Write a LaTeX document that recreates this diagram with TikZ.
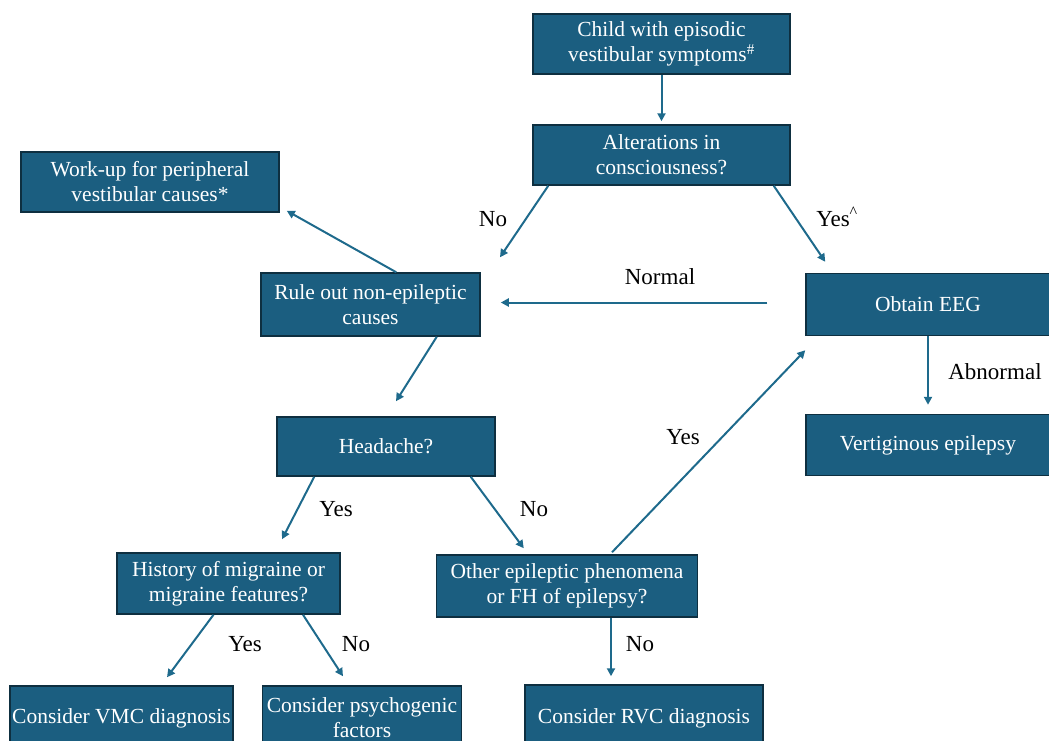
\documentclass[tikz,border=0pt]{standalone}
\usepackage{fontspec}
\setmainfont{Liberation Serif}
\usetikzlibrary{arrows.meta,calc}
\definecolor{boxfill}{HTML}{1B5E80}
\definecolor{boxline}{HTML}{0E2F40}
\definecolor{arrowcol}{HTML}{1E6A8C}
\tikzset{
  flowbox/.style={draw=boxline, line width=1.5pt, fill=boxfill, text=white,
    align=center, inner sep=2pt, font=\fontsize{21.5}{25}\selectfont},
  flowarrow/.style={draw=arrowcol, line width=2pt,
    -{Triangle[length=8pt,width=8pt]}},
  lab/.style={text=black, font=\fontsize{23}{27}\selectfont, inner sep=0pt}
}
\begin{document}
\begin{tikzpicture}[x=1pt,y=-1pt]
\useasboundingbox (0,0) rectangle (1049,740);
\clip (0,0) rectangle (1049,740);
% boxes
\node[flowbox, minimum width=257pt, minimum height=60pt] (child) at (661.5,44) {Child with episodic\\vestibular symptoms\textsuperscript{\#}};
\node[flowbox, minimum width=257pt, minimum height=60pt] (alt) at (661.5,155) {Alterations in\\consciousness?};
\node[flowbox, minimum width=258pt, minimum height=60pt] (work) at (150,182) {Work-up for peripheral\\vestibular causes*};
\node[flowbox, minimum width=219pt, minimum height=63pt] (rule) at (370.5,304.5) {Rule out non-epileptic\\causes};
\node[flowbox, minimum width=244pt, minimum height=62pt] (eeg) at (928,304.5) {Obtain EEG};
\node[flowbox, minimum width=244pt, minimum height=61pt] (vert) at (928,445) {Vertiginous epilepsy};
\node[flowbox, minimum width=218pt, minimum height=59pt] (head) at (386,446.5) {Headache?};
\node[flowbox, minimum width=223pt, minimum height=61pt] (hist) at (228.5,583.5) {History of migraine or\\migraine features?};
\node[flowbox, minimum width=261pt, minimum height=62pt] (other) at (567,586) {Other epileptic phenomena\\or FH of epilepsy?};
\node[flowbox, minimum width=221pt, minimum height=64pt] (vmc) at (121.5,718) {Consider VMC diagnosis};
\node[flowbox, minimum width=199pt, minimum height=64pt] (psych) at (362,718) {Consider psychogenic\\factors};
\node[flowbox, minimum width=238pt, minimum height=66pt] (rvc) at (644,718) {Consider RVC diagnosis};
% connectors
\draw[flowarrow] (child.south) -- ($(alt.north)+(0,-3)$);
\draw[flowarrow] ($(alt.south west)+(16,0)$) -- ($(rule.north)+(129.5,-15)$);
\draw[flowarrow] ($(alt.south east)+(-17,0)$) -- ($(eeg.north west)+(20,-11)$);
\draw[flowarrow] ($(rule.north west)+(136,0)$) -- ($(work.south east)+(7,-2)$);
\draw[flowarrow] ($(eeg.west)+(-38,-2)$) -- ($(rule.east)+(20,-2)$);
\draw[flowarrow] ($(rule.south east)+(-44,0)$) -- ($(head.north)+(10,-15)$);
\draw[flowarrow] (eeg.south) -- ($(vert.north)+(0,-9)$);
\draw[flowarrow] ($(head.south west)+(38,0)$) -- ($(hist.north)+(53.5,-13)$);
\draw[flowarrow] ($(head.south east)+(-25,0)$) -- ($(other.north west)+(88,-6)$);
\draw[flowarrow] ($(other.north)+(45,-2)$) -- ($(eeg.south west)+(0,14)$);
\draw[flowarrow] ($(hist.south)+(-15,0)$) -- ($(vmc.north)+(45.5,-8)$);
\draw[flowarrow] ($(hist.south)+(74.5,0)$) -- ($(psych.north)+(-19,-9)$);
\draw[flowarrow] ($(other.south)+(44,0)$) -- ($(rvc.north)+(-33,-8)$);
% labels
\node[lab] (lno1) at (493,219) {No};
\node[lab] (lyes1) at (837,217) {Yes\textsuperscript{\textasciicircum}};
\node[lab] (lnormal) at (660,277) {Normal};
\node[lab] (labn) at (995,372) {Abnormal};
\node[lab] (lyes2) at (336,509) {Yes};
\node[lab] (lno2) at (534,509) {No};
\node[lab] (lyes3) at (683,437) {Yes};
\node[lab] (lyes4) at (245,644) {Yes};
\node[lab] (lno3) at (356,644) {No};
\node[lab] (lno4) at (640,644) {No};
\end{tikzpicture}
\end{document}
